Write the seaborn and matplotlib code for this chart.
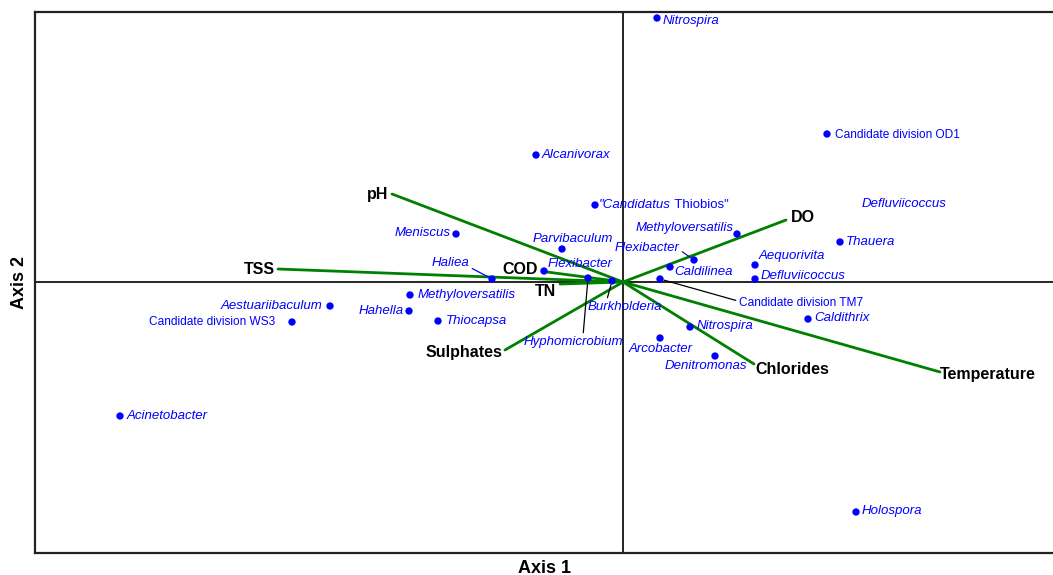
import pandas as pd
import numpy as np
import matplotlib
matplotlib.use('Agg')
import matplotlib.pyplot as plt
import seaborn as sns

# species scores (axis 1, axis 2)
species = ['Nitrospira', 'Candidate division OD1', 'Alcanivorax', '"Candidatus',
           'Meniscus', 'Parvibaculum', 'Flexibacter', 'Haliea', 'Hyphomicrobium',
           'Burkholderia', 'Methyloversatilis', 'Flexibacter', 'Caldilinea',
           'Candidate division TM7', 'Aequorivita', 'Defluviicoccus', 'Thauera',
           'Caldithrix', 'Nitrospira', 'Arcobacter', 'Denitromonas', 'Holospora',
           'Acinetobacter', 'Aestuariibaculum', 'Candidate division WS3',
           'Methyloversatilis', 'Hahella', 'Thiocapsa']
axis1 = [0.34, 2.04, -0.87, -0.28, -1.67, -0.61, -0.79, -1.31, -0.35, -0.11,
         1.14, 0.71, 0.47, 0.37, 1.32, 1.32, 2.17, 1.85, 0.67, 0.37, 0.92, 2.33,
         -5.03, -2.93, -3.31, -2.13, -2.14, -1.85]
axis2 = [2.64, 1.48, 1.27, 0.77, 0.48, 0.33, 0.11, 0.03, 0.04, 0.01,
         0.48, 0.22, 0.15, 0.03, 0.17, 0.03, 0.40, -0.37, -0.45, -0.56, -0.74, -2.30,
         -1.34, -0.24, -0.40, -0.13, -0.29, -0.39]

# label with no point
extra_label = 'Defluviicoccus'
extra_x, extra_y = 2.39, 0.78

# environmental vectors
env_vars = ['pH', 'TSS', 'COD', 'TN', 'Sulphates', 'DO', 'Chlorides', 'Temperature']
env_x = [-2.31, -3.45, -0.76, -0.63, -1.18, 1.63, 1.31, 3.17]
env_y = [0.88, 0.13, 0.10, -0.02, -0.68, 0.62, -0.82, -0.90]

# label placement (pixels: dx, dy up, ha), leader lines (colour, text anchor)
sp_off = [(6, -3, 'left'), (8, -1, 'left'), (6, 0, 'left'), (4, 0, 'left'),
          (-5, 1, 'right'), (11, 10, 'center'), (4, 7, 'left'), (-23, 16, 'right'),
          (-15, -64, 'center'), (13, -26, 'center'), (-3, 6, 'right'), (-15, 12, 'right'),
          (4, -5, 'left'), (79, -24, 'left'), (4, 9, 'left'), (6, 3, 'left'),
          (6, 0, 'left'), (6, 1, 'left'), (7, 1, 'left'), (1, -11, 'center'),
          (-9, -10, 'center'), (6, 1, 'left'), (7, 0, 'left'), (-8, 0, 'right'),
          (-17, 0, 'right'), (8, 0, 'left'), (-5, 0, 'right'), (8, 0, 'left')]
leaders = {7: ('blue', (1.05, 0.1)), 8: ('black', (0.6, 0.95)),
           9: ('black', (0.25, 0.95)), 11: ('#1a1a8a', (1.02, 0.3)),
           13: ('black', (-0.02, 0.7))}
upright = {'Candidate division OD1', 'Candidate division TM7', 'Candidate division WS3'}
env_off = [(-4, 0, 'right'), (-3, 0, 'right'), (-9, 2, 'right'), (-4, -8, 'right'),
           (-3, -2, 'right'), (5, 3, 'left'), (1, -6, 'left'), (0, -2, 'left')]

sns.set_style('white')
plt.rcParams['font.family'] = ['Liberation Sans', 'DejaVu Sans']

fig = plt.figure(figsize=(10.53, 5.75), dpi=100)
ax = fig.add_axes([35 / 1053, 22 / 575, 1 - 35 / 1053, 541 / 575])

ax.axhline(0, color='black', lw=1.2, zorder=1)
ax.axvline(0, color='black', lw=1.2, zorder=1)

vec = pd.DataFrame({'var': np.repeat(env_vars, 2),
                    'x': np.ravel([[0, v] for v in env_x]),
                    'y': np.ravel([[0, v] for v in env_y])})
sns.lineplot(data=vec, x='x', y='y', units='var', estimator=None, sort=False,
             color='green', lw=2, legend=False, ax=ax, zorder=2)

df = pd.DataFrame({'name': species, 'x': axis1, 'y': axis2})
sns.scatterplot(data=df, x='x', y='y', color='blue', s=28, edgecolor='none',
                ax=ax, zorder=3)

for i, row in df.iterrows():
    dx, dy, ha = sp_off[i]
    if row['name'] in upright:
        style, fs = 'normal', 8.6
    else:
        style, fs = 'italic', 9.5
    ap = None
    if i in leaders:
        col, rp = leaders[i]
        ap = dict(arrowstyle='-', color=col, lw=0.9, shrinkA=0, shrinkB=3, relpos=rp)
    t = ax.annotate(row['name'], (row['x'], row['y']), xytext=(dx, dy),
                    textcoords='offset pixels', ha=ha, va='center',
                    color='blue', fontsize=fs, style=style, arrowprops=ap, zorder=4)
    if row['name'] == '"Candidatus':
        ax.annotate(' Thiobios"', xy=(1, 0.5), xycoords=t, ha='left', va='center',
                    color='blue', fontsize=9.5)

ax.text(extra_x, extra_y, extra_label, color='blue', fontsize=9.5, style='italic',
        ha='left', va='center')

for name, x, y, (dx, dy, ha) in zip(env_vars, env_x, env_y, env_off):
    ax.annotate(name, (x, y), xytext=(dx, dy), textcoords='offset pixels',
                ha=ha, va='center', fontsize=11.5, fontweight='bold', color='black')

ax.set_xlim(-5.88, 4.30)
ax.set_ylim(-2.71, 2.70)
ax.set_xticks([])
ax.set_yticks([])
ax.set_xlabel('Axis 1', fontsize=13, fontweight='bold', labelpad=5, color='black')
ax.set_ylabel('Axis 2', fontsize=13, fontweight='bold', labelpad=5, color='black')
for side in ['left', 'top', 'bottom']:
    ax.spines[side].set_color('#222222')
    ax.spines[side].set_linewidth(1.6)
ax.spines['right'].set_visible(False)

fig.savefig('out.png', dpi=100)
